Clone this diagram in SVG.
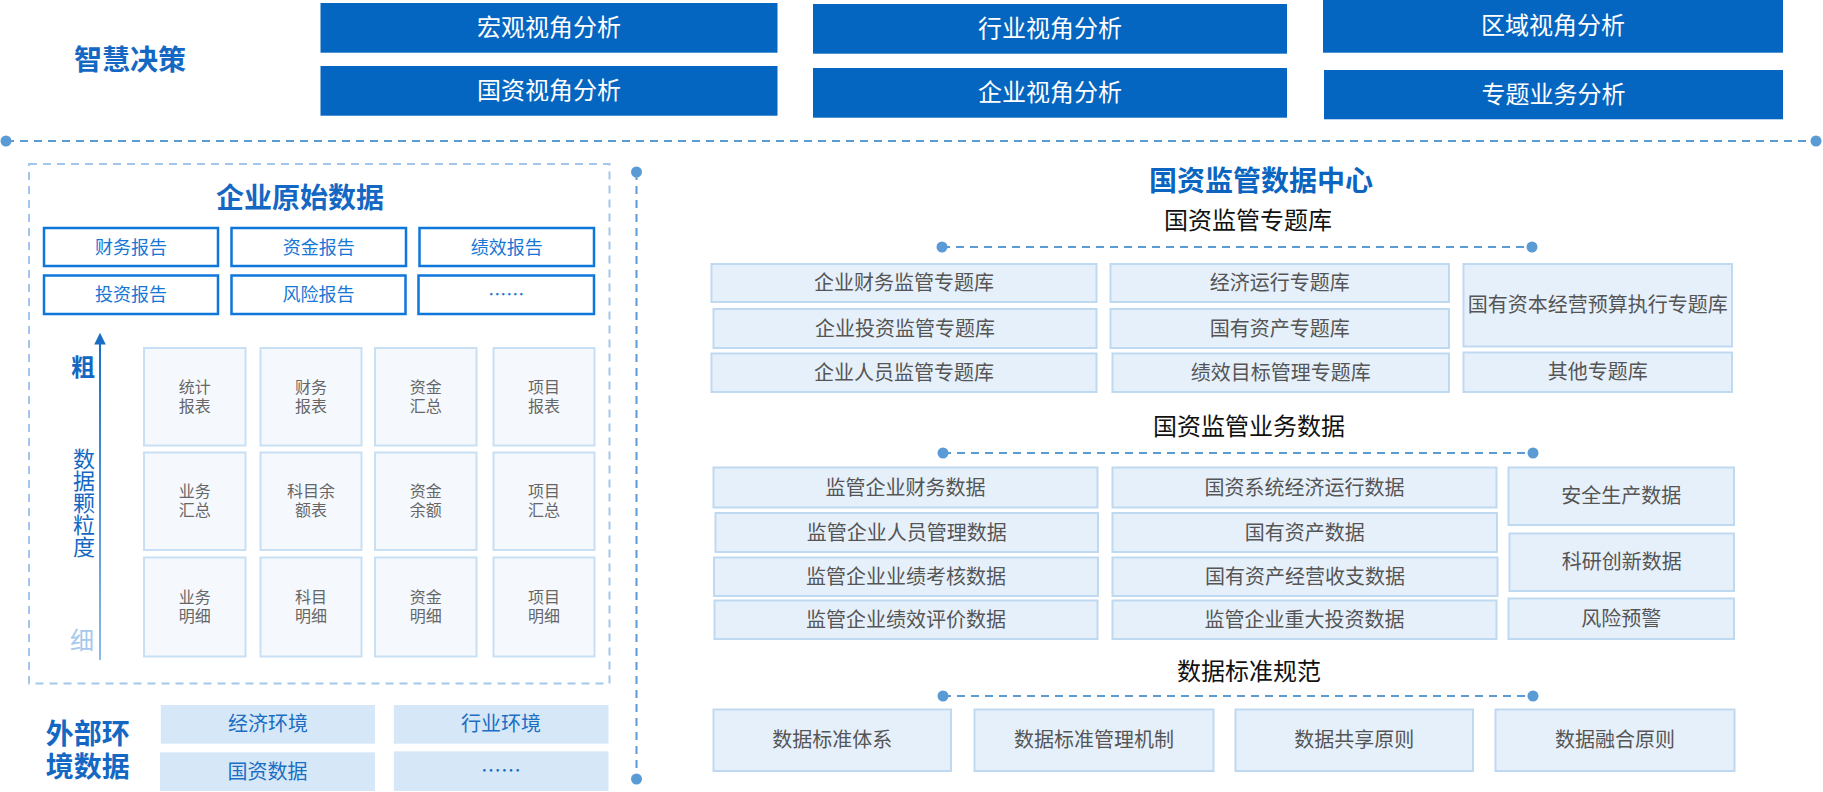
<svg xmlns="http://www.w3.org/2000/svg" width="1823" height="792" viewBox="0 0 1823 792">
<defs>
<style>
text{font-family:"Noto Sans CJK SC","Noto Sans",sans-serif;text-anchor:middle;dominant-baseline:central;transform:translateY(-1.5px)}
.top rect{fill:#0566c1}
.top text{fill:#fff;font-size:24px;transform:translateY(-2.5px)}
.h1{fill:#1468c3;font-size:28px;font-weight:bold}
.sub{fill:#111;font-size:24px}
.rep rect{fill:#fff;stroke:#0f76dc;stroke-width:2.5}
.rep text{fill:#1677d6;font-size:18px}
.cell rect{fill:#f5f9fe;stroke:#c8dff4;stroke-width:2}
.cell text{fill:#666;font-size:16px}
.ext rect{fill:#d6e7f8}
.ext text{fill:#1a6fc4;font-size:20px}
.bx rect{fill:#e6f0fb;stroke:#bfd9f1;stroke-width:2}
.bx text{fill:#555;font-size:20px}
.dl{stroke:#5b9bd5;stroke-width:2;stroke-dasharray:8 6;fill:none}
.dot{fill:#5b9bd5}
.vt{writing-mode:vertical-rl;transform:none}
</style>
<linearGradient id="ag" x1="0" y1="0" x2="0" y2="1">
<stop offset="0" stop-color="#1a6fc4"/>
<stop offset="1" stop-color="#8fb9e6"/>
</linearGradient>
</defs>

<g id="connectors">
<line class="dl" x1="6" y1="141" x2="1816" y2="141"/>
<circle class="dot" cx="6" cy="141" r="5.5"/>
<circle class="dot" cx="1816" cy="141" r="5.5"/>
<line class="dl" x1="636.5" y1="172" x2="636.5" y2="779"/>
<circle class="dot" cx="636.5" cy="172" r="5.5"/>
<circle class="dot" cx="636.5" cy="779" r="5.5"/>
<line class="dl" x1="942" y1="247" x2="1532" y2="247"/>
<circle class="dot" cx="942" cy="247" r="5.5"/>
<circle class="dot" cx="1532" cy="247" r="5.5"/>
<line class="dl" x1="943" y1="453" x2="1533" y2="453"/>
<circle class="dot" cx="943" cy="453" r="5.5"/>
<circle class="dot" cx="1533" cy="453" r="5.5"/>
<line class="dl" x1="943" y1="696" x2="1533" y2="696"/>
<circle class="dot" cx="943" cy="696" r="5.5"/>
<circle class="dot" cx="1533" cy="696" r="5.5"/>
<rect x="29" y="164" width="580.5" height="519.5" fill="none" stroke="#a3c7ea" stroke-width="2" stroke-dasharray="8 6"/>
<rect x="99" y="343" width="2" height="317" fill="url(#ag)"/>
<polygon points="100,332.7 94.2,344.5 105.8,344.5" fill="#1a6fc4"/>
</g>

<g id="decision">
<text class="h1" x="130" y="59">智慧决策</text>
<g class="top">
<g id="n-macro"><rect x="320.5" y="3" width="457" height="49.7"/><text x="549" y="27.8">宏观视角分析</text></g>
<g id="n-sasac"><rect x="320.5" y="66" width="457" height="49.7"/><text x="549" y="90.8">国资视角分析</text></g>
<g id="n-industry"><rect x="813" y="4" width="474" height="49.7"/><text x="1050" y="28.8">行业视角分析</text></g>
<g id="n-enterprise"><rect x="813" y="68" width="474" height="49.7"/><text x="1050" y="92.8">企业视角分析</text></g>
<g id="n-region"><rect x="1323" y="0" width="460" height="52.7"/><text x="1553" y="26.3">区域视角分析</text></g>
<g id="n-topic"><rect x="1324" y="70" width="459" height="49.3"/><text x="1553.5" y="94.6">专题业务分析</text></g>
</g>
</g>

<g id="raw-data">
<text class="h1" x="300" y="197">企业原始数据</text>
<g class="rep">
<g id="r1"><rect x="44" y="228" width="174" height="38"/><text x="131" y="247">财务报告</text></g>
<g id="r2"><rect x="231.5" y="228" width="174.5" height="38"/><text x="318.8" y="247">资金报告</text></g>
<g id="r3"><rect x="419.5" y="228" width="174.5" height="38"/><text x="506.8" y="247">绩效报告</text></g>
<g id="r4"><rect x="44" y="275.5" width="174" height="38.5"/><text x="131" y="294.7">投资报告</text></g>
<g id="r5"><rect x="231.5" y="275.5" width="174" height="38.5"/><text x="318.5" y="294.7">风险报告</text></g>
<g id="r6"><rect x="418.5" y="275.5" width="175.5" height="38.5"/><text x="506.3" y="294.7">……</text></g>
</g>
<text x="83" y="367" fill="#1468c3" font-size="24" font-weight="bold">粗</text>
<text class="vt" x="84" y="503" fill="#1468c3" font-size="22">数据颗粒度</text>
<text x="82" y="640" fill="#a5c8ec" font-size="24">细</text>
<g class="cell">
<g id="c11"><rect x="144" y="348" width="101.5" height="97.5"/><text x="194.8" y="387">统计<tspan x="194.8" dy="19">报表</tspan></text></g>
<g id="c12"><rect x="260.5" y="348" width="101" height="97.5"/><text x="311" y="387">财务<tspan x="311" dy="19">报表</tspan></text></g>
<g id="c13"><rect x="375" y="348" width="101.5" height="97.5"/><text x="425.8" y="387">资金<tspan x="425.8" dy="19">汇总</tspan></text></g>
<g id="c14"><rect x="493.5" y="348" width="101" height="97.5"/><text x="544" y="387">项目<tspan x="544" dy="19">报表</tspan></text></g>
<g id="c21"><rect x="144" y="452.5" width="101.5" height="97.5"/><text x="194.8" y="491.5">业务<tspan x="194.8" dy="19">汇总</tspan></text></g>
<g id="c22"><rect x="260.5" y="452.5" width="101" height="97.5"/><text x="311" y="491.5">科目余<tspan x="311" dy="19">额表</tspan></text></g>
<g id="c23"><rect x="375" y="452.5" width="101.5" height="97.5"/><text x="425.8" y="491.5">资金<tspan x="425.8" dy="19">余额</tspan></text></g>
<g id="c24"><rect x="493.5" y="452.5" width="101" height="97.5"/><text x="544" y="491.5">项目<tspan x="544" dy="19">汇总</tspan></text></g>
<g id="c31"><rect x="144" y="557.5" width="101.5" height="99"/><text x="194.8" y="597.5">业务<tspan x="194.8" dy="19">明细</tspan></text></g>
<g id="c32"><rect x="260.5" y="557.5" width="101" height="99"/><text x="311" y="597.5">科目<tspan x="311" dy="19">明细</tspan></text></g>
<g id="c33"><rect x="375" y="557.5" width="101.5" height="99"/><text x="425.8" y="597.5">资金<tspan x="425.8" dy="19">明细</tspan></text></g>
<g id="c34"><rect x="493.5" y="557.5" width="101" height="99"/><text x="544" y="597.5">项目<tspan x="544" dy="19">明细</tspan></text></g>
</g>
</g>

<g id="external">
<text class="h1" x="87.7" y="733.5">外部环<tspan x="87.7" dy="33.2">境数据</tspan></text>
<g class="ext">
<g id="e1"><rect x="160.8" y="705" width="214.2" height="38.7"/><text x="268" y="724.3">经济环境</text></g>
<g id="e2"><rect x="393.8" y="705" width="214.7" height="38.7"/><text x="501" y="724.3">行业环境</text></g>
<g id="e3"><rect x="160" y="752.3" width="215" height="38.7"/><text x="267.5" y="771.6">国资数据</text></g>
<g id="e4"><rect x="393.8" y="751.3" width="214.7" height="39.7"/><text x="501" y="771.1">……</text></g>
</g>
</g>

<g id="center">
<text x="1261" y="180" fill="#0a64c0" font-size="28" font-weight="bold">国资监管数据中心</text>
<text class="sub" x="1248" y="219.5">国资监管专题库</text>
<g class="bx">
<g id="t1"><rect x="711.5" y="264" width="385" height="38"/><text x="904" y="283">企业财务监管专题库</text></g>
<g id="t2"><rect x="713.5" y="309" width="383" height="39"/><text x="905" y="328.5">企业投资监管专题库</text></g>
<g id="t3"><rect x="711.5" y="353.5" width="385" height="38.5"/><text x="904" y="372.8">企业人员监管专题库</text></g>
<g id="t4"><rect x="1110.5" y="264" width="338.5" height="38"/><text x="1279.8" y="283">经济运行专题库</text></g>
<g id="t5"><rect x="1110.5" y="309" width="338.5" height="39"/><text x="1279.8" y="328.5">国有资产专题库</text></g>
<g id="t6"><rect x="1112.5" y="353.5" width="336.5" height="38.5"/><text x="1280.8" y="372.8">绩效目标管理专题库</text></g>
<g id="t7"><rect x="1463.5" y="264" width="268.5" height="82.5"/><text x="1597.8" y="305.3">国有资本经营预算执行专题库</text></g>
<g id="t8"><rect x="1463.5" y="352.5" width="268.5" height="39.5"/><text x="1597.8" y="372.3">其他专题库</text></g>
</g>

<text class="sub" x="1249" y="425.5">国资监管业务数据</text>
<g class="bx">
<g id="b1"><rect x="713.5" y="467.5" width="384" height="40"/><text x="905.5" y="487.5">监管企业财务数据</text></g>
<g id="b2"><rect x="715.5" y="513" width="382.5" height="39"/><text x="906.8" y="532.5">监管企业人员管理数据</text></g>
<g id="b3"><rect x="714" y="557.5" width="384" height="38.5"/><text x="906" y="576.8">监管企业业绩考核数据</text></g>
<g id="b4"><rect x="714.5" y="600.5" width="383" height="38.5"/><text x="906" y="619.8">监管企业绩效评价数据</text></g>
<g id="b5"><rect x="1112.5" y="467.5" width="384" height="40"/><text x="1304.5" y="487.5">国资系统经济运行数据</text></g>
<g id="b6"><rect x="1112.5" y="513" width="384.5" height="39"/><text x="1304.7" y="532.5">国有资产数据</text></g>
<g id="b7"><rect x="1112.5" y="557.5" width="385" height="38.5"/><text x="1305" y="576.8">国有资产经营收支数据</text></g>
<g id="b8"><rect x="1112.5" y="600.5" width="384" height="38.5"/><text x="1304.5" y="619.8">监管企业重大投资数据</text></g>
<g id="b9"><rect x="1508.5" y="467.5" width="225.5" height="57.5"/><text x="1621.3" y="496.3">安全生产数据</text></g>
<g id="b10"><rect x="1509.5" y="533.5" width="224.5" height="57.5"/><text x="1621.8" y="562.3">科研创新数据</text></g>
<g id="b11"><rect x="1508.5" y="598.5" width="225.5" height="40.5"/><text x="1621.3" y="618.8">风险预警</text></g>
</g>

<text class="sub" x="1249" y="671">数据标准规范</text>
<g class="bx">
<g id="s1"><rect x="713.5" y="709.5" width="237.5" height="61.5"/><text x="832.3" y="740.3">数据标准体系</text></g>
<g id="s2"><rect x="974.5" y="709.5" width="239" height="61.5"/><text x="1094" y="740.3">数据标准管理机制</text></g>
<g id="s3"><rect x="1235.5" y="709.5" width="237.5" height="61.5"/><text x="1354.3" y="740.3">数据共享原则</text></g>
<g id="s4"><rect x="1495.5" y="709.5" width="239" height="61.5"/><text x="1615" y="740.3">数据融合原则</text></g>
</g>
</g>
</svg>
